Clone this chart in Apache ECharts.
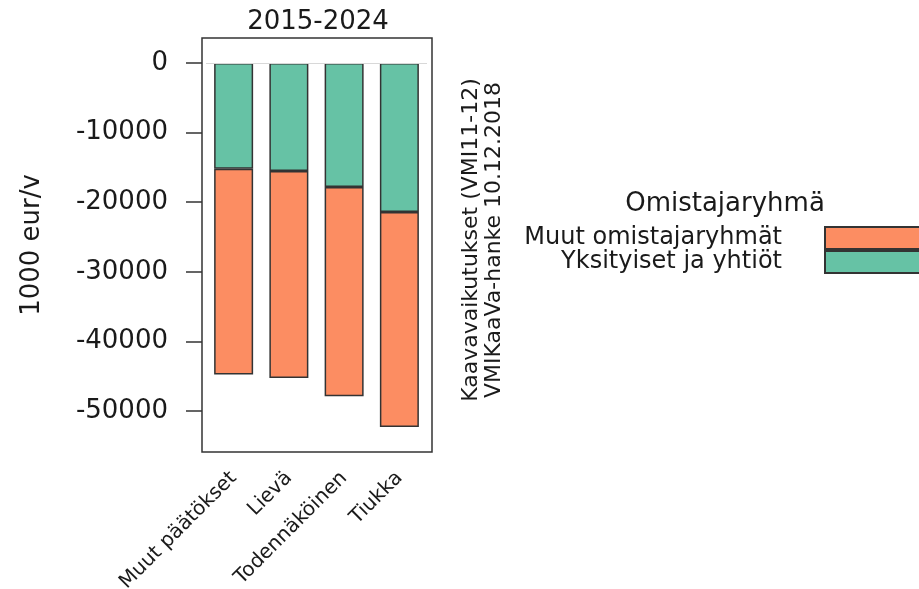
<!DOCTYPE html>
<html>
<head>
<meta charset="utf-8">
<script src="https://cdn.jsdelivr.net/npm/echarts@6/dist/echarts.min.js"></script>
<style>html,body{margin:0;padding:0;background:#fff}#c{width:919px;height:589px}</style>
</head>
<body>
<div id="c"></div>
<script>
const categories = ['Muut päätökset', 'Lievä', 'Todennäköinen', 'Tiukka'];
const yksityiset = [-15200, -15500, -17800, -21400];
const muut = [-29550, -29750, -30100, -30900];
const yTicks = [0, -10000, -20000, -30000, -40000, -50000];
const seriesNames = ['Muut omistajaryhmät', 'Yksityiset ja yhtiöt'];
const panelTitle = '2015-2024';
const yName = '1000 eur/v';
const sideText = 'Kaavavaikutukset (VMI11-12)\nVMIKaaVa-hanke 10.12.2018';
const legendTitle = 'Omistajaryhmä';

const FONT = 'DejaVu Sans';
const TXT = '#1a1a1a';
const Y_MIN = -55900, Y_MAX = 3600;
const chart = echarts.init(document.getElementById('c'), null, {renderer: 'canvas'});
const border = {borderColor: '#333', borderWidth: 1.5};

chart.setOption({
  animation: false,
  backgroundColor: '#fff',
  grid: [
    {left: 202, top: 38, right: 487, bottom: 137, outerBoundsMode: 'none', containLabel: false, show: true, borderColor: '#333', borderWidth: 1.5, backgroundColor: 'transparent'},
    {left: 206, top: 38, right: 492, bottom: 137, outerBoundsMode: 'none', containLabel: false}
  ],
  xAxis: [
    {gridIndex: 0, type: 'value', min: 0, max: 1, show: false},
    {
      gridIndex: 1, type: 'category', data: categories, boundaryGap: true,
      axisLine: {show: false}, axisTick: {show: false}, splitLine: {show: false},
      axisLabel: {interval: 0, rotate: 45, margin: 23, fontFamily: FONT, fontSize: 20, color: TXT}
    }
  ],
  yAxis: [
    {
      gridIndex: 0, type: 'value', min: Y_MIN, max: Y_MAX,
      name: yName, nameLocation: 'middle', nameGap: 157, nameRotate: 90,
      nameTextStyle: {fontFamily: FONT, fontSize: 26, color: TXT},
      axisLine: {show: false}, splitLine: {show: false},
      axisTick: {show: true, customValues: yTicks, length: 16, lineStyle: {color: '#333', width: 1.5}},
      axisLabel: {customValues: yTicks, margin: 34, fontFamily: FONT, fontSize: 26, color: TXT, formatter: v => String(v)}
    },
    {gridIndex: 1, type: 'value', min: Y_MIN, max: Y_MAX, show: false}
  ],
  legend: {
    orient: 'vertical', align: 'right', right: -61, top: 226, padding: 0,
    itemWidth: 154, itemHeight: 22, itemGap: 0, icon: 'rect',
    data: seriesNames,
    textStyle: {fontFamily: FONT, fontSize: 24, color: TXT, lineHeight: 22, padding: [0, 38, 0, 0]}
  },
  graphic: [
    {type: 'text', x: 318, y: 22, style: {text: panelTitle, font: '26px "DejaVu Sans"', fill: TXT, textAlign: 'center', textVerticalAlign: 'middle'}},
    {type: 'text', x: 483, y: 240, rotation: Math.PI / 2, style: {text: sideText, font: '22px "DejaVu Sans"', fill: TXT, textAlign: 'center', textVerticalAlign: 'middle', lineHeight: 23}},
    {type: 'text', x: 725, y: 204, style: {text: legendTitle, font: '26px "DejaVu Sans"', fill: TXT, textAlign: 'center', textVerticalAlign: 'middle'}}
  ],
  series: [
    {
      name: seriesNames[1], type: 'bar', stack: 'total', barWidth: 39,
      xAxisIndex: 1, yAxisIndex: 1,
      itemStyle: Object.assign({color: '#66C2A5'}, border),
      data: yksityiset,
      markLine: {silent: true, symbol: 'none', label: {show: false}, lineStyle: {color: '#d8d8d8', type: 'solid', width: 1}, data: [{yAxis: 0}]},
      z: 2
    },
    {
      name: seriesNames[0], type: 'bar', stack: 'total', barWidth: 39,
      xAxisIndex: 1, yAxisIndex: 1,
      itemStyle: Object.assign({color: '#FC8D62'}, border),
      data: muut,
      z: 2
    }
  ]
});
</script>
</body>
</html>
